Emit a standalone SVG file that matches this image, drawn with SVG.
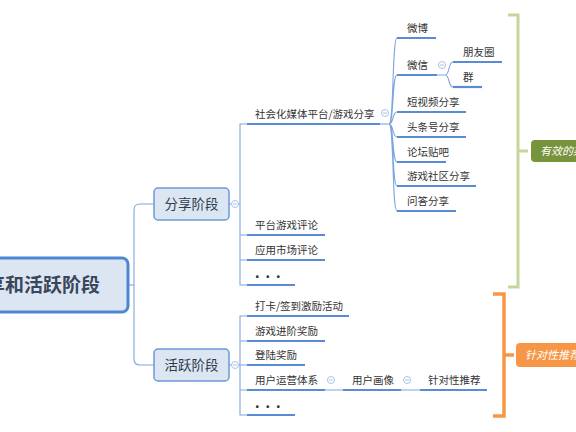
<svg xmlns="http://www.w3.org/2000/svg" width="576" height="432" viewBox="0 0 576 432">
<style>
  text { font-family: "Noto Sans CJK SC", "Noto Sans", sans-serif; fill: #333333; }
  .t { font-size: 10.5px; }
  .sub { font-size: 13.5px; fill: #2e3b4e; }
  .root { font-size: 19px; font-weight: bold; fill: #3a475a; }
  .thin { fill: none; stroke: #7ea6de; stroke-width: 1.1; }
  .ul { fill: none; stroke: #5b8bd4; stroke-width: 2.2; }
  .box { fill: #dce6f2; stroke: #6b9ad8; stroke-width: 1.5; }
  .cl { fill: #ffffff; stroke: #a9c3ea; stroke-width: 1; }
  .clm { stroke: #a9c3ea; stroke-width: 1; }
  .lbl { font-size: 11px; font-style: italic; fill: #ffffff; }
</style>
<defs>
  <g id="coll"><circle class="cl" r="3.5"/><line class="clm" x1="-2" y1="0" x2="2" y2="0"/></g>
</defs>

<g id="connectors">
  <path class="thin" d="M128,285 H134"/>
  <path class="thin" d="M154,204 H140 Q134,204 134,210 V359 Q134,365 140,365 H154"/>
  <path class="thin" d="M229,204 H231.5 M238.5,204 H240"/>
  <path class="thin" d="M229,365 H231.5 M238.5,365 H240"/>
  <path class="thin" d="M247,124 H240 V285 H247 M240,235 H247 M240,260 H247"/>
  <path class="thin" d="M247,316 H240 V415 H247 M240,341 H247 M240,365 H247 M240,390 H247"/>
  <path class="thin" d="M380,124 H389"/>
  <path class="thin" d="M389,124 C394,124 392,38 397,38 M389,124 C394,124 392,75 397,75 M389,124 C394,124 392,112 397,112 M389,124 C394,124 392,137 397,137 M389,124 C394,124 392,162 397,162 M389,124 C394,124 392,186 397,186 M389,124 C394,124 392,211 397,211"/>
  <path class="thin" d="M437,75 H445 M445,75 C450,75 448,62 453,62 M445,75 C450,75 448,87 453,87"/>
  <path class="thin" d="M325,390 H343 M401,390 H420"/>
</g>

<g id="root">
  <rect x="-20" y="258" width="148" height="54" rx="6" fill="#dce6f2" stroke="#4f86d2" stroke-width="3"/>
  <text class="root" x="100" y="292" text-anchor="end">分享和活跃阶段</text>
</g>

<g id="fenxiang">
  <rect class="box" x="154" y="188" width="75" height="32" rx="4"/>
  <text class="sub" x="191.5" y="209" text-anchor="middle">分享阶段</text>
  <use href="#coll" x="235" y="204"/>
</g>
<g id="huoyue">
  <rect class="box" x="154" y="349" width="75" height="32" rx="4"/>
  <text class="sub" x="191.5" y="370" text-anchor="middle">活跃阶段</text>
  <use href="#coll" x="235" y="365"/>
</g>

<g id="shejiao">
  <path class="ul" d="M247,124 H380"/>
  <text class="t" x="255" y="118">社会化媒体平台/游戏分享</text>
  <use href="#coll" x="385" y="113"/>
</g>
<g id="pingtai"><path class="ul" d="M247,235 H325"/><text class="t" x="255" y="229">平台游戏评论</text></g>
<g id="yingyong"><path class="ul" d="M247,260 H325"/><text class="t" x="255" y="254">应用市场评论</text></g>
<g id="dots1"><path class="ul" d="M247,285 H295"/><text class="t" x="252" y="281" font-weight="bold">・・・</text></g>

<g id="daka"><path class="ul" d="M247,316 H349"/><text class="t" x="255" y="310">打卡/签到激励活动</text></g>
<g id="jinjie"><path class="ul" d="M247,341 H325"/><text class="t" x="255" y="335">游戏进阶奖励</text></g>
<g id="denglu"><path class="ul" d="M247,365 H305"/><text class="t" x="255" y="359">登陆奖励</text></g>
<g id="yunying"><path class="ul" d="M247,390 H325"/><text class="t" x="255" y="384">用户运营体系</text><use href="#coll" x="331" y="380"/></g>
<g id="huaxiang"><path class="ul" d="M343,390 H401"/><text class="t" x="352" y="384">用户画像</text><use href="#coll" x="407" y="380"/></g>
<g id="tuijian"><path class="ul" d="M420,390 H487"/><text class="t" x="428" y="384">针对性推荐</text></g>
<g id="dots2"><path class="ul" d="M247,415 H295"/><text class="t" x="252" y="411" font-weight="bold">・・・</text></g>

<g id="weibo"><path class="ul" d="M397,38 H436"/><text class="t" x="407" y="32">微博</text></g>
<g id="weixin"><path class="ul" d="M397,75 H437"/><text class="t" x="407" y="69">微信</text><use href="#coll" x="442" y="65"/></g>
<g id="pengyouquan"><path class="ul" d="M453,62 H502"/><text class="t" x="463" y="56">朋友圈</text></g>
<g id="qun"><path class="ul" d="M453,87 H482"/><text class="t" x="463" y="81">群</text></g>
<g id="duanshipin"><path class="ul" d="M397,112 H466"/><text class="t" x="407" y="106">短视频分享</text></g>
<g id="toutiao"><path class="ul" d="M397,137 H466"/><text class="t" x="407" y="131">头条号分享</text></g>
<g id="luntan"><path class="ul" d="M397,162 H446"/><text class="t" x="407" y="156">论坛贴吧</text></g>
<g id="shequ"><path class="ul" d="M397,186 H476"/><text class="t" x="407" y="180">游戏社区分享</text></g>
<g id="wenda"><path class="ul" d="M397,211 H456"/><text class="t" x="407" y="205">问答分享</text></g>

<g id="bracket-green">
  <path d="M508,15 H518 V287 H508 M518,151 H528" fill="none" stroke="#c3d69b" stroke-width="3"/>
  <rect x="531" y="140" width="60" height="22" rx="4" fill="#77933c"/>
  <text class="lbl" x="540" y="155">有效的渠道</text>
</g>
<g id="bracket-orange">
  <path d="M493,294 H504 V416 H493 M504,355 H514" fill="none" stroke="#f79646" stroke-width="3.5"/>
  <rect x="516" y="343" width="70" height="24" rx="4" fill="#f79646"/>
  <text class="lbl" x="525" y="359">针对性推荐</text>
</g>
</svg>
